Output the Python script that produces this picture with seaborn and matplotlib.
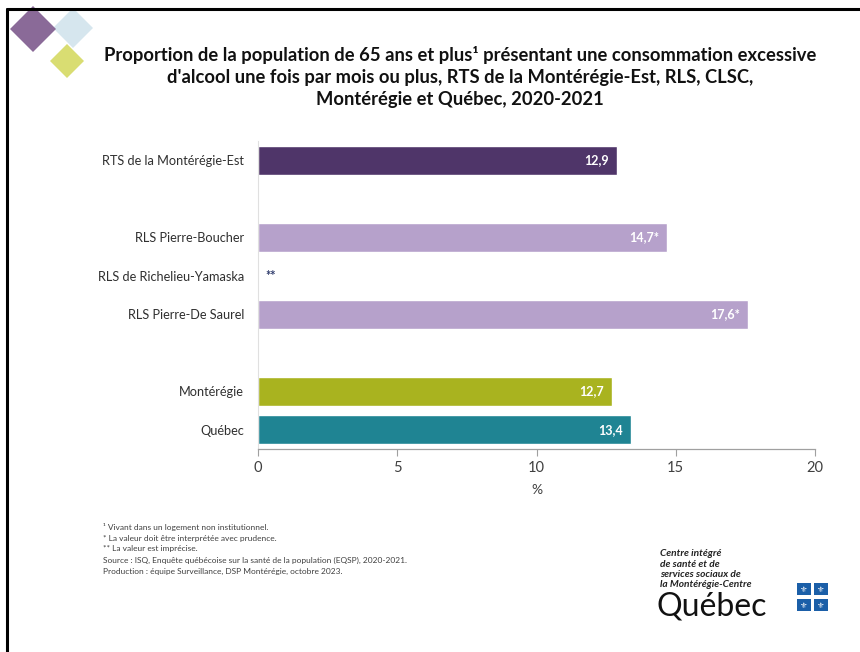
import matplotlib
matplotlib.use("Agg")
import matplotlib.pyplot as plt
import seaborn as sns
import pandas as pd
import numpy as np
from matplotlib.patches import Polygon, Rectangle
from matplotlib.lines import Line2D

categories = ["RTS de la Montérégie-Est", " ", "RLS Pierre-Boucher",
              "RLS de Richelieu-Yamaska", "RLS Pierre-De Saurel", "  ",
              "Montérégie", "Québec"]
values = [12.9, np.nan, 14.7, np.nan, 17.6, np.nan, 12.7, 13.4]
value_labels = ["12,9", "", "14,7*", "**", "17,6*", "", "12,7", "13,4"]
bar_colors = ["#4F3569", "#FFFFFF", "#B6A1CB", "#B6A1CB", "#B6A1CB", "#FFFFFF",
              "#A9B31F", "#1F8493"]
x_ticks = [0, 5, 10, 15, 20]

title = ("Proportion de la population de 65 ans et plus¹ présentant une consommation excessive\n"
         "d'alcool une fois par mois ou plus, RTS de la Montérégie-Est, RLS, CLSC,\n"
         "Montérégie et Québec, 2020-2021")
notes = ["¹ Vivant dans un logement non institutionnel.",
         "* La valeur doit être interprétée avec prudence.",
         "** La valeur est imprécise.",
         "Source : ISQ, Enquête québécoise sur la santé de la population (EQSP), 2020-2021.",
         "Production : équipe Surveillance, DSP Montérégie, octobre 2023."]

sns.set_theme(style="white")
plt.rcParams["font.family"] = ["Lato", "DejaVu Sans"]

fig = plt.figure(figsize=(8.6, 6.52), dpi=100)
W, H = 860, 652
ax = fig.add_axes([258 / W, 1 - 449 / H, (815 - 258) / W, (449 - 141) / H])

df = pd.DataFrame({"cat": categories, "val": values})
sns.barplot(data=df, x="val", y="cat", hue="cat", order=categories,
            palette=dict(zip(categories, bar_colors)), legend=False,
            width=0.76, saturation=1, ax=ax, orient="h")

ax.set_xlim(0, 20)
ax.set_ylim(len(categories) - 0.5, -0.5)
ax.set_xticks(x_ticks)
ax.set_xticklabels([str(t) for t in x_ticks], fontsize=10.5, color="#404040")
ax.set_yticks(range(len(categories)))
ax.set_yticklabels(categories, fontsize=9.2, color="#303030")
ax.tick_params(axis="y", length=0, pad=10)
ax.tick_params(axis="x", length=5, width=0.8, color="#A0A0A0", direction="out", pad=4, bottom=True)
ax.set_xlabel("%", fontsize=10, color="#404040", labelpad=6)
ax.set_ylabel("")
for s in ["top", "right"]:
    ax.spines[s].set_visible(False)
ax.spines["bottom"].set_color("#A0A0A0")
ax.spines["bottom"].set_linewidth(0.9)
ax.spines["left"].set_color("#E0E0E0")
ax.spines["left"].set_linewidth(0.8)

for i, (v, lab) in enumerate(zip(values, value_labels)):
    if lab == "":
        continue
    if np.isnan(v):
        ax.text(0.25, i, lab, ha="left", va="center", fontsize=9, color="#2E3A6B",
                fontweight="bold")
    else:
        ax.text(v - 0.3, i, lab, ha="right", va="center", fontsize=9,
                color="white", fontweight="bold")

# title
fig.text(460 / W, 1 - 77 / H, title, ha="center", va="center", fontsize=13.2,
         fontweight="bold", color="#111111", linespacing=1.35)

# footnotes
for k, n in enumerate(notes):
    fig.text(103 / W, 1 - (527 + 11 * k) / H, n, ha="left", va="center",
             fontsize=6, color="#404040")

# decorative diamonds
def diamond(cx, cy, r, color):
    pts = [(cx, cy - r), (cx + r, cy), (cx, cy + r), (cx - r, cy)]
    pts = [(x / W, 1 - y / H) for x, y in pts]
    fig.patches.append(Polygon(pts, closed=True, transform=fig.transFigure,
                               facecolor=color, edgecolor="none"))
diamond(73, 28, 20, "#D6E6EE")
diamond(33, 29, 23, "#8A6A98")
diamond(67, 61, 17, "#D9DD72")

# border (top & left)
fig.lines.append(Line2D([7 / W, 1], [1 - 9 / H, 1 - 9 / H], transform=fig.transFigure,
                        color="black", linewidth=2.2))
fig.lines.append(Line2D([7 / W, 7 / W], [1 - 9 / H, 0], transform=fig.transFigure,
                        color="black", linewidth=2.2))

# logo
logo_lines = ["Centre intégré", "de santé et de", "services sociaux de", "la Montérégie-Centre"]
for k, l in enumerate(logo_lines):
    fig.text(660 / W, 1 - (554 + 10.3 * k) / H, l, ha="left", va="center", fontsize=7.3,
             fontweight="bold", fontstyle="italic", color="#222222")
fig.text(657 / W, 1 - 615 / H, "Québec", ha="left", va="baseline", fontsize=23,
         color="#111111")
for (fx, fy) in [(797, 589), (814, 589), (797, 605), (814, 605)]:
    fig.patches.append(Rectangle((fx / W, 1 - (fy + 6) / H), 14 / W, 12 / H,
                                 transform=fig.transFigure, facecolor="#1B5FA8",
                                 edgecolor="none"))
    fig.text((fx + 7) / W, 1 - fy / H, "⚜", ha="center", va="center", fontsize=6,
             color="white", family=["DejaVu Sans"])

fig.savefig("out.png", dpi=100, facecolor="white")
